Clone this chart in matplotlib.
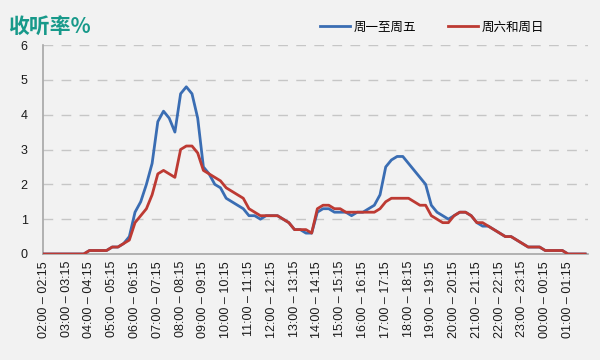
import matplotlib
matplotlib.use("Agg")
import matplotlib.pyplot as plt
import numpy as np

hours = [2,3,4,5,6,7,8,9,10,11,12,13,14,15,16,17,18,19,20,21,22,23,0,1]
tick_labels = [f"{h:02d}:00 – {h:02d}:15" for h in hours]

weekday = [0,0,0,0,0,0,0,0, 0.1,0.1,0.1,0.1, 0.2,0.2, 0.3,0.5,1.2,1.5,2.0,2.6,
           3.8,4.1,3.9,3.5,4.6,4.8,4.6,3.9,2.5,2.3,2.0,1.9,1.6,1.5,1.4,1.3,
           1.1,1.1,1.0,1.1,1.1,1.1,1.0,0.9,0.7,0.7,0.6,0.6,1.2,1.3,1.3,1.2,
           1.2,1.2,1.1,1.2,1.2,1.3,1.4,1.7,2.5,2.7,2.8,2.8,2.6,2.4,2.2,2.0,
           1.4,1.2,1.1,1.0,1.1,1.2,1.2,1.1,0.9,0.8,0.8,0.7,0.6,0.5,0.5,0.4,
           0.3,0.2,0.2,0.2,0.1,0.1,0.1,0.1,0,0,0,0]
weekend = [0,0,0,0,0,0,0,0, 0.1,0.1,0.1,0.1, 0.2,0.2, 0.3,0.4,0.9,1.1,1.3,1.7,
           2.3,2.4,2.3,2.2,3.0,3.1,3.1,2.9,2.4,2.3,2.2,2.1,1.9,1.8,1.7,1.6,
           1.3,1.2,1.1,1.1,1.1,1.1,1.0,0.9,0.7,0.7,0.7,0.6,1.3,1.4,1.4,1.3,
           1.3,1.2,1.2,1.2,1.2,1.2,1.2,1.3,1.5,1.6,1.6,1.6,1.6,1.5,1.4,1.4,
           1.1,1.0,0.9,0.9,1.1,1.2,1.2,1.1,0.9,0.9,0.8,0.7,0.6,0.5,0.5,0.4,
           0.3,0.2,0.2,0.2,0.1,0.1,0.1,0.1,0,0,0,0]

plt.rcParams['font.family'] = ['Liberation Sans', 'Noto Sans CJK SC', 'DejaVu Sans']

bg = '#f2f2f2'
fig = plt.figure(figsize=(6, 3.6), dpi=100, facecolor=bg)
ax = fig.add_axes([43/600, 1-254/360, (588-43)/600, (254-45)/360], facecolor=bg)

x = np.arange(len(weekday))
ax.plot(x, weekday, color='#3a6db3', lw=2.0, label='周一至周五', solid_joinstyle='round', zorder=3)
ax.plot(x, weekend, color='#bd3a33', lw=2.0, label='周六和周日', solid_joinstyle='round', zorder=4)

ax.set_xlim(-0.15, 95.5)
ax.set_ylim(0, 6)
ax.set_yticks(range(0, 7))
ax.set_xticks(np.arange(0, 96, 4))
ax.set_xticklabels(tick_labels, rotation=90, fontsize=9, color='#1a1a1a')
ax.tick_params(axis='y', labelsize=9, colors='#1a1a1a', length=0, pad=11)
ax.tick_params(axis='x', length=0, pad=5)
for v in range(1, 7):
    ax.axhline(v, color='#c6c6c6', lw=1.0, dashes=(7, 6), zorder=1)
for s in ['top', 'right']:
    ax.spines[s].set_visible(False)
for s in ['left', 'bottom']:
    ax.spines[s].set_color('#a6a6a6')
    ax.spines[s].set_linewidth(1.2)

fig.text(8/600, 1-26/360, '收听率%', fontsize=15, fontweight='bold', color='#17998a',
         family=['Noto Sans CJK SC', 'DejaVu Sans'], va='center', ha='left')

leg = fig.legend(loc='center', bbox_to_anchor=(432/600, 1-27/360), ncol=2, frameon=False,
                 prop={'family': ['Noto Sans CJK SC', 'DejaVu Sans'], 'size': 9},
                 handlelength=2.4, columnspacing=2.6, handletextpad=0.3)

fig.savefig('out.png', dpi=100, facecolor=bg)
